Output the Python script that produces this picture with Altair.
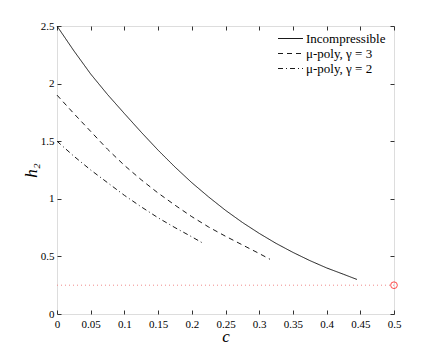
import altair as alt
import pandas as pd

# --- data ---
c_inc = [0, 0.025, 0.05, 0.075, 0.1, 0.125, 0.15, 0.175, 0.2, 0.225, 0.25, 0.275,
         0.3, 0.325, 0.35, 0.375, 0.4, 0.425, 0.445]
h_inc = [2.5, 2.285, 2.083, 1.905, 1.74, 1.578, 1.422, 1.276, 1.14, 1.016, 0.9, 0.795,
         0.7, 0.613, 0.535, 0.464, 0.4, 0.345, 0.3]

c_g3 = [0, 0.025, 0.05, 0.075, 0.1, 0.125, 0.15, 0.175, 0.2, 0.225, 0.25, 0.275, 0.3, 0.316]
h_g3 = [1.9, 1.74, 1.585, 1.43, 1.29, 1.165, 1.05, 0.945, 0.845, 0.755, 0.675, 0.6, 0.525, 0.475]

c_g2 = [0, 0.025, 0.05, 0.075, 0.1, 0.125, 0.15, 0.175, 0.2, 0.215]
h_g2 = [1.5, 1.37, 1.25, 1.14, 1.03, 0.93, 0.835, 0.75, 0.67, 0.62]

series_names = ["Incompressible", "μ-poly, γ = 3", "μ-poly, γ = 2"]
dash_styles = [[1, 0], [5, 4], [5, 3, 1, 3]]

ref_c = [0, 0.5]
ref_h = [0.25, 0.25]
pt_c = [0.5]
pt_h = [0.25]

x_ticks = [0, 0.05, 0.1, 0.15, 0.2, 0.25, 0.3, 0.35, 0.4, 0.45, 0.5]
y_ticks = [0, 0.5, 1, 1.5, 2, 2.5]

rows = []
for name, cs, hs in zip(series_names, [c_inc, c_g3, c_g2], [h_inc, h_g3, h_g2]):
    for i, (cv, hv) in enumerate(zip(cs, hs)):
        rows.append({"series": name, "c": cv, "h": hv, "order": i})
df = pd.DataFrame(rows)
df_ref = pd.DataFrame({"c": ref_c, "h": ref_h})
df_pt = pd.DataFrame({"c": pt_c, "h": pt_h})

FONT = "Liberation Serif"
xscale = alt.Scale(domain=[0, 0.5], nice=False, zero=False)
yscale = alt.Scale(domain=[0, 2.5], nice=False, zero=False)

common_axis = dict(offset=-4, tickSize=4, domain=False, grid=False,
                   tickColor="#333", tickWidth=1,
                   labelFont=FONT, labelFontSize=11, labelColor="#000")

lines = alt.Chart(df).mark_line(color="black", strokeWidth=0.9).encode(
    x=alt.X("c:Q", scale=xscale,
            axis=alt.Axis(values=x_ticks, title="c", labelPadding=4,
                          titleFont=FONT, titleFontSize=17, titleFontStyle="italic",
                          titleFontWeight="normal", titleColor="#000",
                          titleX=168.5, titleY=31, titleAlign="center",
                          titleBaseline="alphabetic",
                          labelFlush=False, format="~g", **common_axis)),
    y=alt.Y("h:Q", scale=yscale,
            axis=alt.Axis(values=y_ticks, title="h₂", labelPadding=3,
                          titleFont=FONT, titleFontSize=17, titleFontStyle="italic",
                          titleFontWeight="normal", titleColor="#000",
                          titleX=-25, titleY=144, titleAngle=-90,
                          titleAlign="center", titleBaseline="alphabetic",
                          labelFlush=False, format="~g", **common_axis)),
    strokeDash=alt.StrokeDash("series:N",
                              scale=alt.Scale(domain=series_names, range=dash_styles),
                              legend=alt.Legend(title=None, orient="none",
                                                legendX=227, legendY=6,
                                                symbolType="M-2.27,0H2.27", symbolSize=121,
                                                symbolStrokeColor="black",
                                                symbolStrokeWidth=0.9,
                                                labelFont=FONT, labelFontSize=13,
                                                labelColor="#000", labelOffset=9,
                                                rowPadding=1, padding=0)),
    order="order:Q",
)

ref = alt.Chart(df_ref).mark_line(color="#f08a8a", strokeWidth=1, strokeDash=[1, 3]).encode(
    x=alt.X("c:Q", scale=xscale,
            axis=alt.Axis(orient="top", values=x_ticks, labels=False, title=None,
                          offset=-4, tickSize=4, domain=False, grid=False,
                          tickColor="#333", tickWidth=1)),
    y=alt.Y("h:Q", scale=yscale,
            axis=alt.Axis(orient="right", values=y_ticks, labels=False, title=None,
                          offset=-4, tickSize=4, domain=False, grid=False,
                          tickColor="#333", tickWidth=1)),
)

pt = alt.Chart(df_pt).mark_point(shape="circle", filled=False, color="red",
                                 size=45, strokeWidth=1).encode(
    x=alt.X("c:Q", scale=xscale, axis=None),
    y=alt.Y("h:Q", scale=yscale, axis=None),
)

chart = alt.layer(lines, ref, pt).resolve_axis(
    x="independent", y="independent"
).properties(
    width=337, height=288,
    autosize=alt.AutoSizeParams(type="none"),
    padding={"left": 49, "top": 18, "right": 34, "bottom": 32},
).configure_view(
    stroke="#333", strokeWidth=1
).configure(background="white")

chart.save("out.html", embed_options={"renderer": "svg", "actions": False})
